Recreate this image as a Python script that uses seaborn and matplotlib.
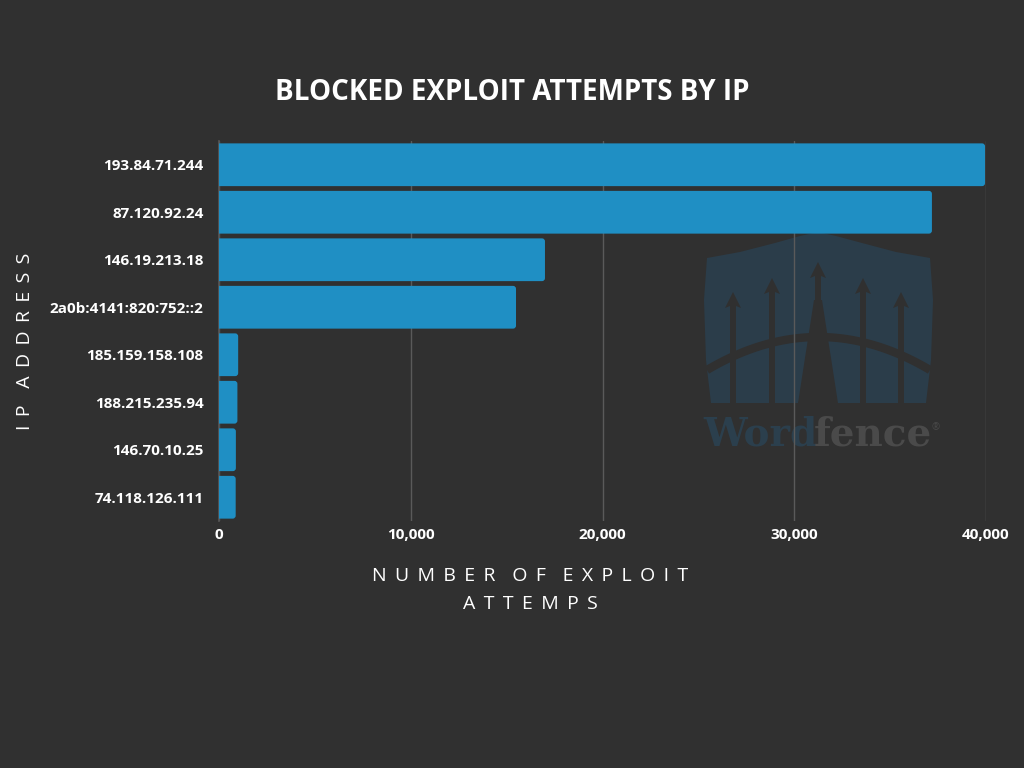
import matplotlib
matplotlib.use("Agg")
import matplotlib.pyplot as plt
import seaborn as sns
import pandas as pd
import numpy as np
from matplotlib.patches import Polygon, FancyBboxPatch
from matplotlib.ticker import FuncFormatter

ips = ["193.84.71.244", "87.120.92.24", "146.19.213.18", "2a0b:4141:820:752::2",
       "185.159.158.108", "188.215.235.94", "146.70.10.25", "74.118.126.111"]
attempts = [39950, 37180, 17000, 15490, 1000, 960, 880, 870]

title = "BLOCKED EXPLOIT ATTEMPTS BY IP"
xlabel_lines = ["NUMBER OF EXPLOIT", "ATTEMPS"]
ylabel = "IP ADDRESS"

BG = "#303030"
BAR = "#1f8fc4"

sns.set_theme(style="dark")
plt.rcParams['font.family'] = ['Open Sans', 'DejaVu Sans']


def spaced(s):
    out = []
    for w in s.split(" "):
        out.append("\u2009 ".join(list(w)))
    return "\u2009  \u2009".join(out)


fig = plt.figure(figsize=(10.24, 7.68), dpi=100, facecolor=BG)

# watermark layer (pixel coordinates)
bg = fig.add_axes([0, 0, 1, 1], zorder=0)
bg.set_xlim(0, 1024)
bg.set_ylim(768, 0)
bg.axis("off")
bg.set_facecolor(BG)
shield_col = "#2b3d4a"
shield = Polygon([(707, 258), (740, 252), (775, 243), (800, 236), (818, 232),
                  (836, 236), (862, 243), (896, 252), (930, 258),
                  (933, 300), (931, 360), (926, 403), (711, 403), (706, 360), (704, 300)],
                 closed=True, facecolor=shield_col, edgecolor="none")
bg.add_patch(shield)
for xa, tip in [(733, 292), (772, 278), (818, 262), (863, 278), (901, 292)]:
    bg.add_patch(Polygon([(xa - 3, tip + 14), (xa - 3, 403), (xa + 3, 403), (xa + 3, tip + 14),
                          (xa + 8, tip + 16), (xa, tip), (xa - 8, tip + 16)],
                         closed=True, facecolor=BG, edgecolor="none"))
bg.add_patch(Polygon([(814, 300), (822, 300), (838, 403), (798, 403)],
                     closed=True, facecolor=BG, edgecolor="none"))
tt = np.linspace(707, 930, 60)
arc = 337 + 33 * ((tt - 818.5) / 111.5) ** 2
bg.plot(tt, arc, color=BG, lw=6, solid_capstyle="butt")
bg.text(703, 446, "Word", color="#2b3f4d", fontsize=28, fontweight="bold",
        family="DejaVu Serif", ha="left", va="baseline")
bg.text(814, 446, "fence", color="#4a4a4a", fontsize=28, fontweight="bold",
        family="DejaVu Serif", ha="left", va="baseline")
bg.text(932, 430, "®", color="#4a4a4a", fontsize=7, ha="left", va="baseline")

ax = fig.add_axes([219 / 1024, 1 - 521 / 768, (986 - 219) / 1024, (521 - 141) / 768], zorder=1)
ax.set_facecolor("none")

df = pd.DataFrame({"ip": ips, "attempts": attempts})
sns.barplot(data=df, x="attempts", y="ip", color=BAR, saturation=1, width=0.9, ax=ax,
            zorder=3, linewidth=0)

ax.set_xlim(0, 40000)
ax.set_ylim(len(ips) - 0.5, -0.5)

# rounded bar ends (right side only; left side is clipped at the axis)
data_per_px_x = 40000 / 767
data_per_px_y = len(ips) / 380
for p in list(ax.patches):
    x0, y0, w, h = p.get_x(), p.get_y(), p.get_width(), p.get_height()
    shift = 5 * data_per_px_x
    fb = FancyBboxPatch((x0 - shift, y0), w + shift, h,
                        boxstyle=f"round,pad=0,rounding_size={3 * data_per_px_x}",
                        mutation_aspect=data_per_px_y / data_per_px_x,
                        facecolor=BAR, edgecolor="none", zorder=3)
    p.remove()
    ax.add_patch(fb)
    fb.set_clip_path(ax.patch)

ax.set_xticks([0, 10000, 20000, 30000, 40000])
ax.xaxis.set_major_formatter(FuncFormatter(lambda v, p: f"{int(v):,}"))
ax.grid(axis="x", color="#5a5a5a", lw=1, zorder=0)
ax.grid(axis="y", visible=False)
for s in ["top", "right", "bottom"]:
    ax.spines[s].set_visible(False)
ax.spines["left"].set_color("#555555")
ax.spines["left"].set_zorder(1)
ax.tick_params(axis="both", length=0, colors="white", labelsize=11)
for lab in ax.get_xticklabels() + ax.get_yticklabels():
    lab.set_fontweight("bold")
    lab.set_color("white")
ax.tick_params(axis="x", pad=5)
ax.tick_params(axis="y", pad=11)
ax.set_xlabel("")
ax.set_ylabel("")

fig.text(530 / 1024, 1 - 576 / 768, spaced(xlabel_lines[0]), color="white",
         fontsize=14, ha="center", va="center")
fig.text(530 / 1024, 1 - 604 / 768, spaced(xlabel_lines[1]), color="white",
         fontsize=14, ha="center", va="center")
fig.text(25 / 1024, 1 - 341 / 768, spaced(ylabel), color="white",
         fontsize=14, ha="center", va="center", rotation=90)

fig.text(512 / 1024, 1 - 93 / 768, title, color="white",
         fontsize=20, fontweight="bold", ha="center", va="center")

fig.savefig("out.png", dpi=100, facecolor=BG)
